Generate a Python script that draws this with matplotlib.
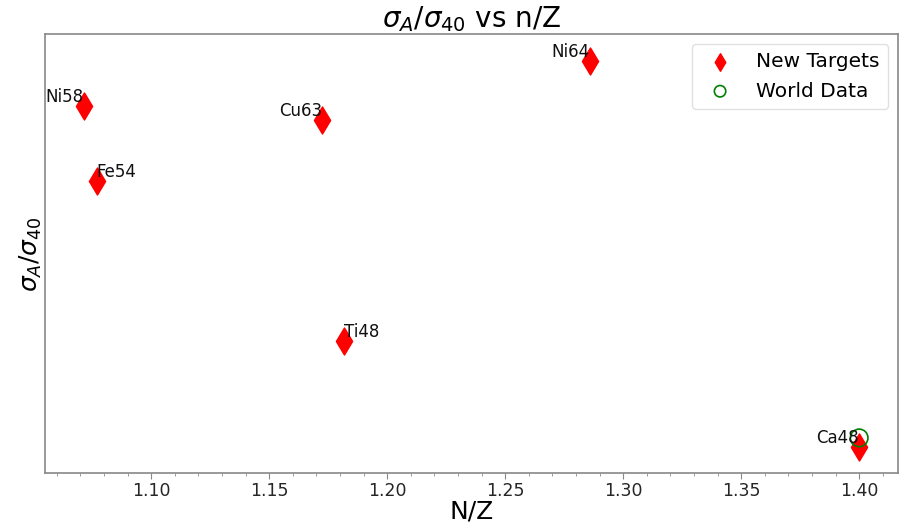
import matplotlib
matplotlib.use('Agg')
import matplotlib.pyplot as plt
from matplotlib.ticker import MultipleLocator

# new targets: N/Z and cross-section ratio (arbitrary units)
targets = ['Ni58', 'Fe54', 'Cu63', 'Ti48', 'Ni64', 'Ca48']
nz_new = [30/28, 28/26, 34/29, 26/22, 36/28, 28/20]
ratio_new = [1.153, 1.076, 1.139, 0.910, 1.200, 0.800]
label_side = ['right', 'left', 'right', 'left', 'right', 'right']

# world data
nz_world = [28/20]
ratio_world = [0.809]

fig = plt.figure(figsize=(9.02, 5.24), dpi=100)
ax = fig.add_axes([0.050, 0.097, 0.9455, 0.8375])

ax.scatter(nz_new, ratio_new, marker='d', s=190, color='red', label='New Targets', zorder=2)
ax.scatter(nz_world, ratio_world, marker='o', s=160, facecolors='none',
           edgecolors='green', linewidths=1.2, label='World Data', zorder=3)

for name, x, y, side in zip(targets, nz_new, ratio_new, label_side):
    ax.text(x, y, name, ha=side, va='bottom', fontsize=12, color='#111111', zorder=4)

ax.set_title(r'$\sigma_A/\sigma_{40}$ vs n/Z', fontsize=20, pad=4)
ax.set_xlabel('N/Z', fontsize=18, labelpad=0)
ax.set_ylabel(r'$\sigma_A/\sigma_{40}$', fontsize=18, labelpad=1)

ax.set_ylim(0.7724, 1.2277)
ax.set_yticks([])
ax.xaxis.set_major_locator(MultipleLocator(0.05))
ax.xaxis.set_minor_locator(MultipleLocator(0.01))
ax.xaxis.set_major_formatter(matplotlib.ticker.FormatStrFormatter('%.2f'))
ax.tick_params(axis='x', which='major', length=4, pad=2, color='#888888', labelsize=12.5, labelcolor='#262626')
ax.tick_params(axis='x', which='minor', length=2.5, color='#888888')
for sp in ax.spines.values():
    sp.set_color('#888888')
    sp.set_linewidth(1.2)

ax.legend(loc='upper right', fontsize=14.5, markerscale=0.65, framealpha=0.8, edgecolor='#d9d9d9')

fig.savefig('out.png', dpi=100)
